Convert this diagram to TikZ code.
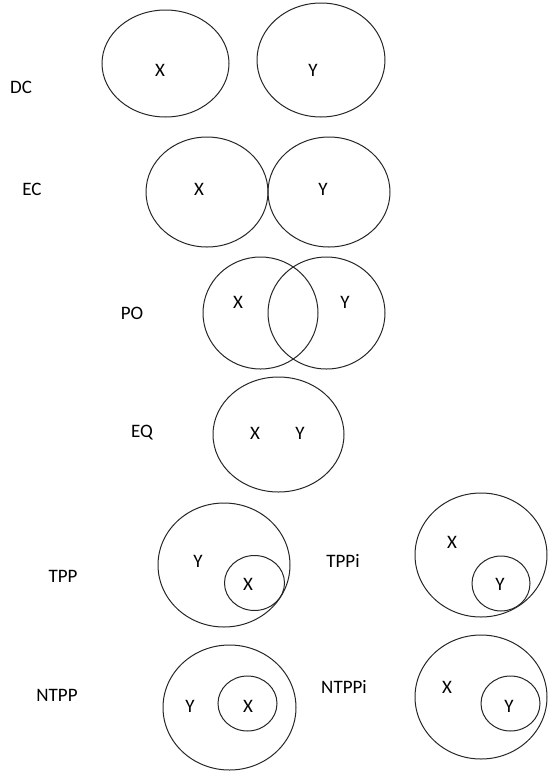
\documentclass[tikz,border=0pt]{standalone}
\usepackage{fontspec}
\setmainfont{Carlito}
\usepackage{tikz}

\begin{document}
\begin{tikzpicture}[x = 1pt, y = -1pt, line width = 1pt, draw = black!85,
    every node/.style={font = \fontsize{19}{21}\selectfont, inner sep = 0pt}]
    \useasboundingbox (0, 0) rectangle (547, 772);
    % DC
    \node (dc) at (21, 87) {DC};
    \draw (165.5, 63.5) ellipse [x radius = 63.5, y radius = 53.5];
    \draw (321, 60) ellipse [x radius = 64, y radius = 57];
    \node (dcx) at (160, 70) {X};
    \node (dcy) at (313, 70) {Y};
    % EC
    \node (ec) at (32, 189) {EC};
    \draw (207, 192) ellipse [x radius = 61, y radius = 55];
    \draw (329, 192) ellipse [x radius = 61, y radius = 55];
    \node (ecx) at (199, 189) {X};
    \node (ecy) at (323, 189) {Y};
    % PO
    \node (po) at (132, 313) {PO};
    \draw (260.5, 313) ellipse [x radius = 57.5, y radius = 56];
    \draw (326.5, 313) ellipse [x radius = 58.5, y radius = 56];
    \node (pox) at (238, 302) {X};
    \node (poy) at (345, 302) {Y};
    % EQ
    \node (eq) at (142, 433) {EQ};
    \draw (278.5, 434.5) ellipse [x radius = 65.5, y radius = 57.5];
    \node (eqx) at (255, 433) {X};
    \node (eqy) at (300, 433) {Y};
    % TPP
    \node (tpp) at (63, 576) {TPP};
    \draw (224, 565) ellipse [x radius = 66, y radius = 62];
    \draw (254.5, 583) ellipse [x radius = 30, y radius = 27.5];
    \node (tppy) at (198, 561) {Y};
    \node (tppx) at (248, 584) {X};
    % TPPi
    \node (tppi) at (343, 561) {TPPi};
    \draw (481, 555) ellipse [x radius = 66, y radius = 62];
    \draw (501, 583.5) ellipse [x radius = 29, y radius = 27.5];
    \node (tppix) at (452, 542) {X};
    \node (tppiy) at (500, 584) {Y};
    % NTPP
    \node (ntpp) at (57, 695) {NTPP};
    \draw (229.5, 707.5) ellipse [x radius = 66.5, y radius = 62.5];
    \draw (247.5, 703.5) ellipse [x radius = 29.5, y radius = 27.5];
    \node (ntppy) at (190, 706) {Y};
    \node (ntppx) at (248, 706) {X};
    % NTPPi
    \node (ntppi) at (344, 687) {NTPPi};
    \draw (481, 697) ellipse [x radius = 66, y radius = 62];
    \draw (510.5, 703.5) ellipse [x radius = 29.5, y radius = 27.5];
    \node (ntppix) at (447, 687) {X};
    \node (ntppiy) at (509, 706) {Y};
\end{tikzpicture}
\end{document}
